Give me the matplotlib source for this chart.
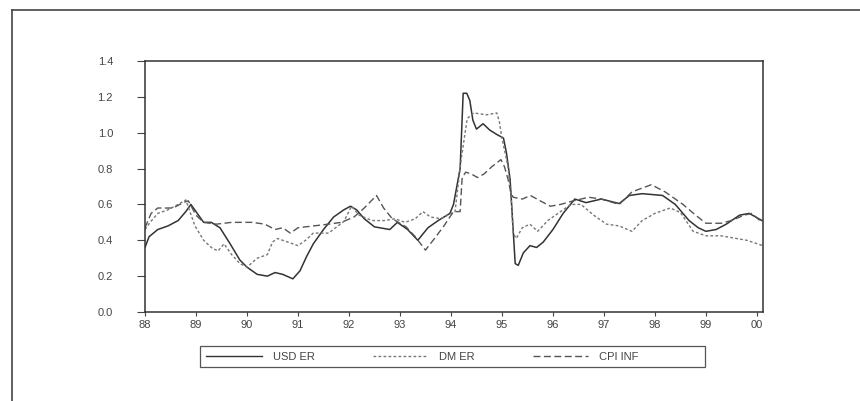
import matplotlib
matplotlib.use("Agg")
import matplotlib.pyplot as plt
from matplotlib.lines import Line2D
from matplotlib.patches import Rectangle

plt.rcParams['font.family'] = ['Liberation Sans', 'DejaVu Sans']

# USD exchange rate (solid)
usd_t = [1988.00, 1988.08, 1988.25, 1988.45, 1988.65, 1988.80, 1988.90, 1989.00,
         1989.15, 1989.30, 1989.47, 1989.67, 1989.86, 1990.00, 1990.20, 1990.40,
         1990.55, 1990.70, 1990.90, 1991.04, 1991.17, 1991.30, 1991.50, 1991.70,
         1991.90, 1992.03, 1992.15, 1992.30, 1992.50, 1992.80, 1992.95, 1993.15,
         1993.35, 1993.55, 1993.75, 1993.98, 1994.05, 1994.18, 1994.24, 1994.31,
         1994.37, 1994.43, 1994.50, 1994.63, 1994.76, 1994.90, 1995.03, 1995.09,
         1995.16, 1995.22, 1995.26, 1995.32, 1995.42, 1995.55, 1995.68, 1995.81,
         1996.00, 1996.20, 1996.43, 1996.65, 1996.95, 1997.30, 1997.50, 1997.75,
         1998.15, 1998.40, 1998.67, 1998.85, 1999.00, 1999.20, 1999.40, 1999.66,
         1999.85, 2000.10]
usd_v = [0.36, 0.42, 0.46, 0.48, 0.51, 0.56, 0.60, 0.56,
         0.50, 0.50, 0.47, 0.38, 0.29, 0.25, 0.21, 0.20,
         0.22, 0.21, 0.185, 0.23, 0.31, 0.38, 0.46, 0.53,
         0.57, 0.59, 0.57, 0.52, 0.475, 0.46, 0.50, 0.46,
         0.40, 0.47, 0.51, 0.55, 0.60, 0.80, 1.22, 1.22,
         1.18, 1.07, 1.02, 1.05, 1.015, 0.99, 0.97, 0.885,
         0.74, 0.46, 0.27, 0.26, 0.33, 0.37, 0.36, 0.39,
         0.46, 0.55, 0.63, 0.61, 0.63, 0.605, 0.65, 0.66,
         0.65, 0.60, 0.51, 0.47, 0.45, 0.46, 0.49, 0.54,
         0.55, 0.51]

# DM exchange rate (dotted)
dm_t = [1988.00, 1988.10, 1988.25, 1988.45, 1988.65, 1988.80, 1988.98, 1989.15,
        1989.30, 1989.43, 1989.55, 1989.70, 1989.86, 1990.00, 1990.20, 1990.40,
        1990.50, 1990.60, 1990.80, 1991.00, 1991.15, 1991.30, 1991.60, 1991.90,
        1992.05, 1992.20, 1992.45, 1992.70, 1992.90, 1993.10, 1993.30, 1993.45,
        1993.60, 1993.80, 1994.00, 1994.08, 1994.20, 1994.32, 1994.45, 1994.70,
        1994.90, 1994.95, 1995.00, 1995.06, 1995.12, 1995.18, 1995.22, 1995.28,
        1995.40, 1995.55, 1995.70, 1995.90, 1996.10, 1996.35, 1996.55, 1996.80,
        1997.05, 1997.30, 1997.55, 1997.75, 1998.00, 1998.30, 1998.50, 1998.75,
        1999.00, 1999.30, 1999.60, 1999.80, 2000.12]
dm_v = [0.46, 0.50, 0.55, 0.57, 0.60, 0.625, 0.48, 0.40,
        0.36, 0.34, 0.38, 0.32, 0.27, 0.25, 0.30, 0.32,
        0.39, 0.41, 0.39, 0.37, 0.40, 0.44, 0.44, 0.505,
        0.59, 0.54, 0.51, 0.51, 0.52, 0.50, 0.52, 0.56,
        0.53, 0.52, 0.55, 0.56, 0.85, 1.08, 1.11, 1.10,
        1.11, 1.06, 0.97, 0.89, 0.81, 0.64, 0.44, 0.41,
        0.47, 0.49, 0.45, 0.51, 0.55, 0.60, 0.60, 0.54,
        0.49, 0.48, 0.45, 0.51, 0.55, 0.58, 0.555, 0.45,
        0.425, 0.425, 0.41, 0.40, 0.37]

# CPI inflation (dashed)
cpi_t = [1988.00, 1988.12, 1988.25, 1988.55, 1988.75, 1988.85, 1989.00, 1989.15,
         1989.40, 1989.70, 1990.10, 1990.35, 1990.55, 1990.70, 1990.85, 1991.00,
         1991.30, 1991.60, 1991.85, 1992.10, 1992.30, 1992.54, 1992.68, 1992.85,
         1993.12, 1993.30, 1993.50, 1993.65, 1993.85, 1994.05, 1994.18, 1994.22,
         1994.29, 1994.40, 1994.52, 1994.65, 1994.80, 1994.98, 1995.05, 1995.12,
         1995.18, 1995.22, 1995.40, 1995.56, 1995.75, 1995.95, 1996.15, 1996.40,
         1996.70, 1996.95, 1997.30, 1997.55, 1997.93, 1998.20, 1998.55, 1998.80,
         1999.00, 1999.30, 1999.50, 1999.75, 1999.90, 2000.10]
cpi_v = [0.47, 0.55, 0.58, 0.58, 0.61, 0.62, 0.54, 0.50,
         0.49, 0.50, 0.50, 0.49, 0.46, 0.47, 0.44, 0.47,
         0.48, 0.49, 0.50, 0.53, 0.58, 0.65, 0.58, 0.52,
         0.475, 0.42, 0.345, 0.40, 0.475, 0.56, 0.56, 0.75,
         0.78, 0.77, 0.75, 0.77, 0.81, 0.85, 0.81, 0.74,
         0.66, 0.64, 0.63, 0.65, 0.62, 0.59, 0.60, 0.62,
         0.64, 0.63, 0.60, 0.67, 0.71, 0.67, 0.60, 0.54,
         0.495, 0.495, 0.51, 0.54, 0.55, 0.50]

year_ticks = list(range(1988, 2001))
year_labels = ['88', '89', '90', '91', '92', '93', '94', '95', '96', '97', '98', '99', '00']
y_ticks = [0.0, 0.2, 0.4, 0.6, 0.8, 1.0, 1.2, 1.4]

W, H = 860, 401
fig = plt.figure(figsize=(W / 100, H / 100), dpi=100)
ax = fig.add_axes([145 / W, 1 - 312 / H, (763 - 145) / W, (312 - 61) / H])

ax.plot(usd_t, usd_v, color='#333333', lw=1.1, label='USD ER')
ax.plot(dm_t, dm_v, color='#777777', lw=1.0, dashes=(2, 1.6), label='DM ER')
ax.plot(cpi_t, cpi_v, color='#555555', lw=1.0, dashes=(5, 2.5), label='CPI INF')

ax.set_xlim(1988, 2000.12)
ax.set_ylim(0, 1.4)
ax.set_xticks(year_ticks)
ax.set_xticklabels(year_labels)
ax.set_yticks(y_ticks)
ax.set_yticklabels(['%.1f' % v for v in y_ticks])
ax.tick_params(axis='y', direction='out', length=6, pad=17, labelsize=8,
               colors='#444444', width=0.8)
ax.tick_params(axis='x', direction='out', length=3, pad=3, labelsize=8,
               colors='#444444', width=0.8)
for s in ax.spines.values():
    s.set_color('#333333')
    s.set_linewidth(1.1)

# legend in a separate box below the plot
handles = [Line2D([], [], color='#333333', lw=1.0),
           Line2D([], [], color='#777777', lw=1.0, dashes=(2, 1.6)),
           Line2D([], [], color='#555555', lw=1.0, dashes=(5, 2.5))]
fig.legend(handles, ['USD ER', 'DM ER', 'CPI INF'], loc='center left',
           bbox_to_anchor=(203 / W, 1 - 356.5 / H), ncol=3, frameon=False,
           fontsize=8, handlelength=5.0, handletextpad=1.0, columnspacing=5.2,
           labelcolor='#444444', borderaxespad=0, borderpad=0.3)
fig.add_artist(Rectangle((200 / W, 1 - 367 / H), (705 - 200) / W, 21 / H,
                         transform=fig.transFigure, fill=False,
                         edgecolor='#555555', lw=0.9))

# outer frame of the page
fig.add_artist(Line2D([12 / W, 12 / W], [0, 1 - 10 / H], color='#444444', lw=1.2,
                      transform=fig.transFigure))
fig.add_artist(Line2D([12 / W, 1], [1 - 10 / H, 1 - 10 / H], color='#444444', lw=1.2,
                      transform=fig.transFigure))

fig.savefig('out.png', dpi=100)
